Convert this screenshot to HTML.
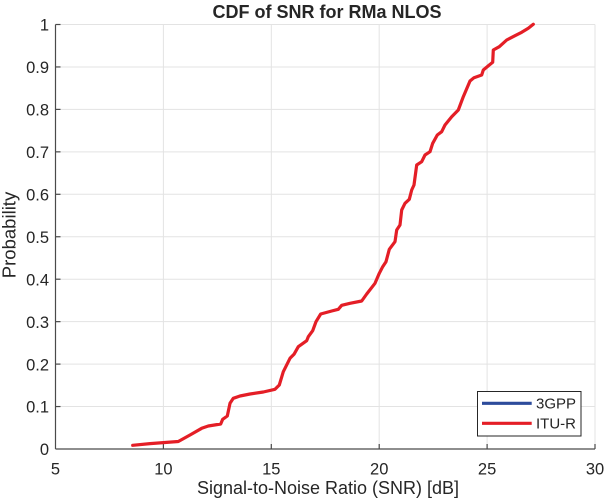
<!DOCTYPE html>
<html>
<head>
<meta charset="utf-8">
<style>
  html, body { margin: 0; padding: 0; background: #ffffff; }
  svg { display: block; }
  text { font-family: "Liberation Sans", Arial, sans-serif; fill: #262626; }
</style>
</head>
<body>
<svg width="605" height="503" viewBox="0 0 605 503" xmlns="http://www.w3.org/2000/svg">
  <rect x="0" y="0" width="605" height="503" fill="#ffffff"/>

  <!-- grid lines -->
  <g stroke="#e3e3e3" stroke-width="1">
    <line x1="163.4" y1="24.5" x2="163.4" y2="449"/>
    <line x1="271.3" y1="24.5" x2="271.3" y2="449"/>
    <line x1="379.2" y1="24.5" x2="379.2" y2="449"/>
    <line x1="487.1" y1="24.5" x2="487.1" y2="449"/>
    <line x1="595" y1="24.5" x2="595" y2="449"/>
    <line x1="55.5" y1="24.5" x2="595" y2="24.5"/>
    <line x1="55.5" y1="66.95" x2="595" y2="66.95"/>
    <line x1="55.5" y1="109.4" x2="595" y2="109.4"/>
    <line x1="55.5" y1="151.85" x2="595" y2="151.85"/>
    <line x1="55.5" y1="194.3" x2="595" y2="194.3"/>
    <line x1="55.5" y1="236.75" x2="595" y2="236.75"/>
    <line x1="55.5" y1="279.2" x2="595" y2="279.2"/>
    <line x1="55.5" y1="321.65" x2="595" y2="321.65"/>
    <line x1="55.5" y1="364.1" x2="595" y2="364.1"/>
    <line x1="55.5" y1="406.55" x2="595" y2="406.55"/>
  </g>

  <!-- axes -->
  <g stroke="#4a4a4a" stroke-width="1.2" fill="none">
    <line x1="55.5" y1="24.5" x2="55.5" y2="449"/>
    <line x1="55.5" y1="449" x2="595" y2="449"/>
    <!-- y ticks -->
    <line x1="55.5" y1="24.5" x2="60.5" y2="24.5"/>
    <line x1="55.5" y1="66.95" x2="60.5" y2="66.95"/>
    <line x1="55.5" y1="109.4" x2="60.5" y2="109.4"/>
    <line x1="55.5" y1="151.85" x2="60.5" y2="151.85"/>
    <line x1="55.5" y1="194.3" x2="60.5" y2="194.3"/>
    <line x1="55.5" y1="236.75" x2="60.5" y2="236.75"/>
    <line x1="55.5" y1="279.2" x2="60.5" y2="279.2"/>
    <line x1="55.5" y1="321.65" x2="60.5" y2="321.65"/>
    <line x1="55.5" y1="364.1" x2="60.5" y2="364.1"/>
    <line x1="55.5" y1="406.55" x2="60.5" y2="406.55"/>
    <!-- x ticks -->
    <line x1="163.4" y1="449" x2="163.4" y2="444"/>
    <line x1="271.3" y1="449" x2="271.3" y2="444"/>
    <line x1="379.2" y1="449" x2="379.2" y2="444"/>
    <line x1="487.1" y1="449" x2="487.1" y2="444"/>
    <line x1="595" y1="449" x2="595" y2="444"/>
  </g>

  <!-- y tick labels -->
  <g font-size="16.5" text-anchor="end">
    <text x="49" y="30.5">1</text>
    <text x="49" y="73">0.9</text>
    <text x="49" y="115.5">0.8</text>
    <text x="49" y="158">0.7</text>
    <text x="49" y="200.5">0.6</text>
    <text x="49" y="243">0.5</text>
    <text x="49" y="285.5">0.4</text>
    <text x="49" y="328">0.3</text>
    <text x="49" y="370.5">0.2</text>
    <text x="49" y="412.5">0.1</text>
    <text x="49" y="455">0</text>
  </g>

  <!-- x tick labels -->
  <g font-size="16.5" text-anchor="middle">
    <text x="55.5" y="474.5">5</text>
    <text x="163.4" y="474.5">10</text>
    <text x="271.3" y="474.5">15</text>
    <text x="379.2" y="474.5">20</text>
    <text x="487.1" y="474.5">25</text>
    <text x="595" y="474.5">30</text>
  </g>

  <!-- title -->
  <text x="327" y="18" font-size="18" font-weight="bold" text-anchor="middle" fill="#000">CDF of SNR for RMa NLOS</text>

  <!-- axis labels -->
  <text x="328" y="494" font-size="18" text-anchor="middle">Signal-to-Noise Ratio (SNR) [dB]</text>
  <text transform="translate(15.5,235) rotate(-90)" font-size="18.5" text-anchor="middle">Probability</text>

  <!-- ITU-R curve -->
  <polyline fill="none" stroke="#e41e26" stroke-width="3.2" stroke-linejoin="round" stroke-linecap="round"
    points="132.7,445.3 150,443.6 178.3,441.5 190,435 201.7,428.3 208.3,426 220.7,424 222.7,419.3 227.3,416 230,403.3 233.3,398.3 240,396 250,394 263.3,392 275,389.3 279.3,385 283.3,371.7 285,368.3 290,358.3 294,354.3 298.3,346.7 306.7,340.7 308.3,336.7 312.7,330.7 316,321.7 320.7,314 331.7,311 338.3,309.3 341.7,305.3 350,303.3 361.7,301 366.7,294 375,283.3 379.3,273.3 382.7,266.7 386,261.7 389.3,249.3 395,241.7 396.7,230 400,225 401.7,210 405,203.3 409.3,199.3 411.7,190 414,185 416.7,165 421.7,161.7 425,155 430,151.7 432.7,143.3 437.3,135 441.7,131.7 445,125 451.7,116.7 458.3,110 463.3,96.7 470,81 474,77.7 481.7,75 483.3,70 489.3,65 492.7,62.3 493.3,50 499.3,46.7 506.7,40 515,35.7 521.7,32.3 528.3,28.3 533.3,24.3"/>

  <!-- legend -->
  <rect x="477.5" y="391.5" width="103.5" height="44.5" fill="#ffffff" stroke="#262626" stroke-width="1"/>
  <line x1="482" y1="403.3" x2="531.7" y2="403.3" stroke="#2d4b9b" stroke-width="3.2"/>
  <line x1="482" y1="423.3" x2="531.7" y2="423.3" stroke="#e41e26" stroke-width="3.2"/>
  <text x="536" y="408.5" font-size="15">3GPP</text>
  <text x="536" y="428.5" font-size="15">ITU-R</text>
</svg>
</body>
</html>
